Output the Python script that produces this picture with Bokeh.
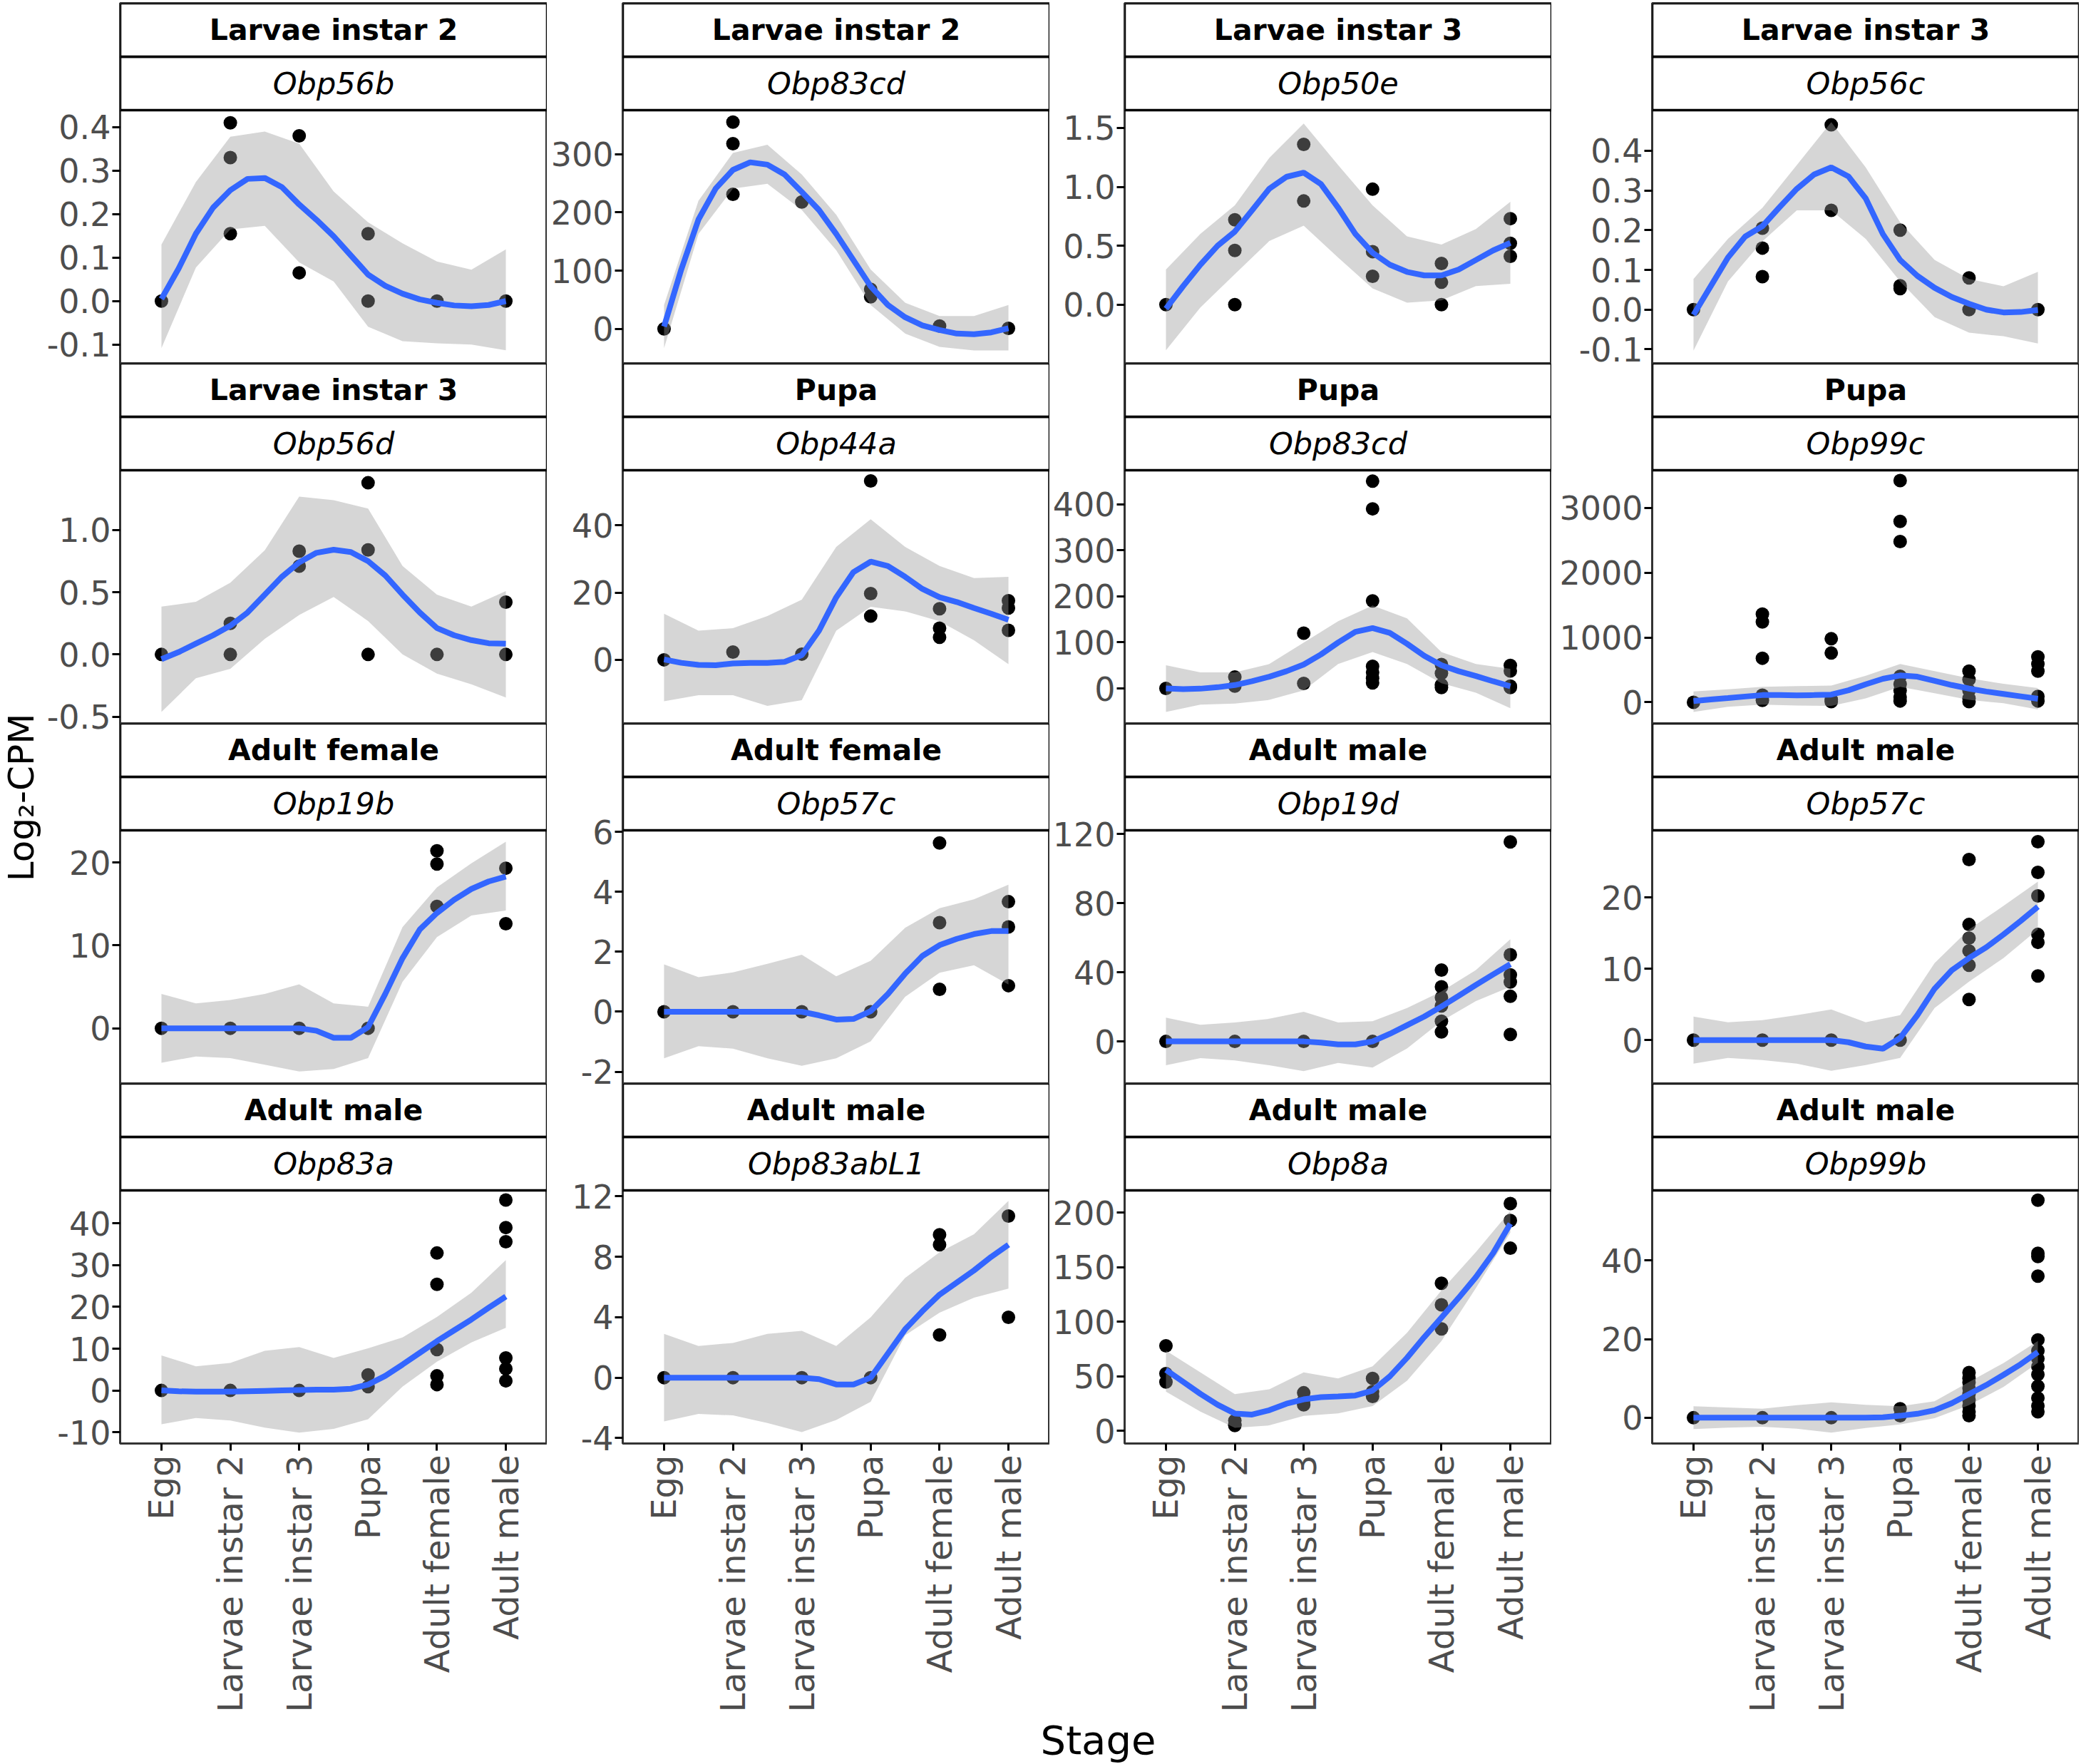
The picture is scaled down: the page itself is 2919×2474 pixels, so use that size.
import numpy as np
from bokeh.plotting import figure
from bokeh.layouts import row, column
from bokeh.models import Range1d, FixedTicker, PrintfTickFormatter
from bokeh.core.properties import value
from bokeh.embed import file_html
from bokeh.resources import INLINE

# ---------------- data ----------------
STAGES = ["Egg", "Larvae instar 2", "Larvae instar 3", "Pupa", "Adult female", "Adult male"]
STRIP_STAGE = ["Larvae instar 2", "Larvae instar 2", "Larvae instar 3", "Larvae instar 3",
               "Larvae instar 3", "Pupa", "Pupa", "Pupa",
               "Adult female", "Adult female", "Adult male", "Adult male",
               "Adult male", "Adult male", "Adult male", "Adult male"]
STRIP_GENE = ["Obp56b", "Obp83cd", "Obp50e", "Obp56c",
              "Obp56d", "Obp44a", "Obp83cd", "Obp99c",
              "Obp19b", "Obp57c", "Obp19d", "Obp57c",
              "Obp83a", "Obp83abL1", "Obp8a", "Obp99b"]
X_LABEL = "Stage"
Y_LABEL = "Log\u2082-CPM"

# stage positions at which the smooth line and its band were read
LINE_X = [1.0, 1.25, 1.5, 1.75, 2.0, 2.25, 2.5, 2.75, 3.0, 3.25, 3.5,
          3.75, 4.0, 4.25, 4.5, 4.75, 5.0, 5.25, 5.5, 5.75, 6.0]
BAND_X = [1.0, 1.5, 2.0, 2.5, 3.0, 3.5, 4.0, 4.5, 5.0, 5.5, 6.0]

# points per stage (Egg, L2, L3, Pupa, Adult female, Adult male)
P01_PTS = [[0.0], [0.41, 0.33, 0.155], [0.38, 0.065], [0.155, 0.0], [0.0], [0.0]]
P01_LINE = [0.005, 0.075, 0.155, 0.215, 0.255, 0.281, 0.283, 0.262, 0.222, 0.187, 0.149,
            0.105, 0.061, 0.035, 0.017, 0.004, -0.004, -0.010, -0.012, -0.009, 0.0]
P01_UP = [0.130, 0.274, 0.378, 0.390, 0.362, 0.252, 0.181, 0.133, 0.091, 0.072, 0.119]
P01_LO = [-0.108, 0.077, 0.165, 0.173, 0.089, 0.045, -0.059, -0.092, -0.097, -0.100, -0.113]
P01_YLIM = [-0.143, 0.439]
P01_TICKS = [-0.1, 0.0, 0.1, 0.2, 0.3, 0.4]

P02_PTS = [[0.0], [355, 318, 231], [218], [68, 55], [5], [1]]
P02_LINE = [4, 102, 188, 241, 273, 286, 282, 265, 235, 204, 163,
            118, 73, 41, 20, 6, -2, -8, -9, -6, 1]
P02_UP = [41, 220, 302, 316, 265, 196, 102, 45, 22, 22, 41]
P02_LO = [-33, 163, 241, 249, 204, 135, 41, -8, -31, -37, -37]
P02_YLIM = [-59, 375.5]
P02_TICKS = [0, 100, 200, 300]

P03_PTS = [[0.0], [0.72, 0.46, 0.0], [1.36, 0.88], [0.98, 0.45, 0.24], [0.35, 0.19, 0.0], [0.73, 0.52, 0.41]]
P03_LINE = [-0.034, 0.157, 0.339, 0.50, 0.62, 0.80, 0.984, 1.085, 1.12, 1.024, 0.823,
            0.60, 0.44, 0.339, 0.278, 0.248, 0.248, 0.298, 0.379, 0.46, 0.524]
P03_UP = [0.298, 0.60, 0.843, 1.246, 1.538, 1.185, 0.843, 0.58, 0.51, 0.641, 0.873]
P03_LO = [-0.387, -0.024, 0.258, 0.54, 0.671, 0.399, 0.137, 0.016, 0.036, 0.157, 0.177]
P03_YLIM = [-0.498, 1.651]
P03_TICKS = [0.0, 0.5, 1.0, 1.5]

P04_PTS = [[0.0], [0.205, 0.155, 0.083], [0.465, 0.25], [0.20, 0.06, 0.053], [0.08, 0.0], [0.0]]
P04_LINE = [-0.013, 0.059, 0.131, 0.184, 0.210, 0.258, 0.304, 0.340, 0.358, 0.335, 0.28,
            0.19, 0.125, 0.085, 0.055, 0.032, 0.015, 0.0, -0.007, -0.006, -0.001]
P04_UP = [0.077, 0.178, 0.256, 0.364, 0.472, 0.358, 0.22, 0.125, 0.077, 0.059, 0.095]
P04_LO = [-0.103, 0.071, 0.172, 0.25, 0.25, 0.178, 0.071, -0.019, -0.058, -0.067, -0.085]
P04_YLIM = [-0.135, 0.502]
P04_TICKS = [-0.1, 0.0, 0.1, 0.2, 0.3, 0.4]

P05_PTS = [[0.0], [0.25, 0.0], [0.83, 0.71], [1.38, 0.84, 0.0], [0.0], [0.42, 0.0]]
P05_LINE = [-0.038, 0.019, 0.087, 0.154, 0.231, 0.337, 0.481, 0.625, 0.74, 0.817, 0.842,
            0.823, 0.75, 0.635, 0.481, 0.337, 0.212, 0.154, 0.115, 0.09, 0.087]
P05_UP = [0.385, 0.423, 0.577, 0.837, 1.269, 1.24, 1.173, 0.712, 0.481, 0.385, 0.51]
P05_LO = [-0.462, -0.192, -0.115, 0.125, 0.317, 0.462, 0.269, 0.0, -0.154, -0.24, -0.346]
P05_YLIM = [-0.554, 1.481]
P05_TICKS = [-0.5, 0.0, 0.5, 1.0]

P06_PTS = [[0.0], [2.3], [1.7], [53.2, 19.7, 13.0], [15.2, 9.4, 6.7], [17.6, 15.4, 8.8]]
P06_LINE = [0.1, -0.9, -1.5, -1.6, -1.1, -0.9, -0.9, -0.6, 1.4, 8.7, 18.6,
            26.1, 29.2, 27.9, 24.7, 21.1, 18.6, 17.2, 15.4, 13.7, 11.9]
P06_UP = [13.7, 8.7, 9.4, 13.0, 17.9, 33.6, 41.8, 33.6, 27.9, 24.3, 24.7]
P06_LO = [-12.3, -10.5, -10.5, -13.7, -12.0, 8.7, 15.8, 14.4, 11.5, 5.8, -1.3]
P06_YLIM = [-18.9, 56.4]
P06_TICKS = [0, 20, 40]

P07_PTS = [[0.0], [25, 5], [120, 11], [450, 390, 190, 48, 35, 22, 12], [52, 33, 8, 2], [50, 38, 5, 2]]
P07_LINE = [0, -1.6, -0.5, 2.6, 7.3, 15.6, 25.5, 37.4, 52, 73.8, 99.7,
            123, 131, 120.5, 97, 71, 50.4, 37.4, 27, 15.6, 4.7]
P07_UP = [50.4, 34.8, 34.8, 53, 99.7, 146, 180, 152, 79, 53, 42.6]
P07_LO = [-50.9, -35.3, -32.7, -24.9, -4.2, 53, 79, 53, 11.4, -9.4, -43]
P07_YLIM = [-75.8, 473.8]
P07_TICKS = [0, 100, 200, 300, 400]

P08_PTS = [[0.0], [1360, 1240, 680, 110, 30], [980, 760, 40, 10],
           [3420, 2790, 2480, 400, 280, 180, 80, 20], [480, 350, 180, 60, 10], [700, 590, 480, 90, 20]]
P08_LINE = [18, 44, 66, 89, 111, 111, 107, 111, 118, 185, 277,
            362, 414, 395, 332, 266, 211, 166, 129, 92, 55]
P08_UP = [166, 200, 240, 250, 258, 410, 590, 480, 370, 285, 220]
P08_LO = [-148, -70, -37, -50, -55, 60, 240, 140, 37, -15, -110]
P08_YLIM = [-325, 3580]
P08_TICKS = [0, 1000, 2000, 3000]

P09_PTS = [[0.0], [0.0], [0.0], [0.0], [21.4, 19.8, 14.7], [19.3, 12.6]]
P09_LINE = [0, 0, 0, 0, 0, 0, 0, 0, 0, -0.3, -1.15,
            -1.15, 0.14, 4.15, 8.45, 11.9, 13.9, 15.5, 16.8, 17.7, 18.3]
P09_UP = [4.15, 3.0, 3.4, 4.15, 5.3, 3.0, 2.6, 12.2, 17.0, 19.9, 22.5]
P09_LO = [-4.15, -3.4, -3.6, -4.4, -5.2, -4.9, -3.6, 5.6, 11.0, 13.6, 14.2]
P09_YLIM = [-6.65, 23.87]
P09_TICKS = [0, 10, 20]

P10_PTS = [[0.0], [0.0], [0.0], [0.0], [5.63, 2.97, 0.75], [3.67, 2.83, 0.87]]
P10_LINE = [0, 0, 0, 0, 0, 0, 0, 0, 0, -0.12, -0.26,
            -0.24, 0.02, 0.59, 1.27, 1.86, 2.22, 2.43, 2.59, 2.69, 2.69]
P10_UP = [1.58, 1.15, 1.31, 1.6, 1.9, 1.18, 1.7, 2.8, 3.45, 3.75, 4.24]
P10_LO = [-1.55, -1.15, -1.23, -1.55, -1.8, -1.55, -0.99, 0.5, 1.3, 1.55, 0.91]
P10_YLIM = [-2.39, 6.05]
P10_TICKS = [-2, 0, 2, 4, 6]

P11_PTS = [[0.0], [0.0], [0.0], [0.0], [41.3, 31.6, 25.4, 20.6, 11.7, 5.5], [115.5, 50.2, 38.5, 34.4, 26.1, 4.1]]
P11_LINE = [0, 0, 0, 0, 0, 0, 0, 0, 0, -0.7, -1.7,
            -1.7, 0, 4.4, 9.4, 14.4, 20.2, 26.4, 32.7, 38.8, 44.7]
P11_UP = [13.8, 9.6, 11.0, 13.1, 17.2, 11.0, 11.7, 19.3, 28.9, 41.3, 59.2]
P11_LO = [-13.8, -9.6, -11.0, -13.8, -17.2, -12.4, -15.1, -4.1, 11.7, 23.4, 31.6]
P11_YLIM = [-24.3, 122.2]
P11_TICKS = [0, 40, 80, 120]

P12_PTS = [[0.0], [0.0], [0.0], [0.0], [25.3, 16.2, 14.3, 12.5, 10.5, 5.7], [27.8, 23.5, 20.2, 14.8, 13.7, 9.0]]
P12_LINE = [0, 0, 0, 0, 0, 0, 0, 0, 0, -0.3, -0.9,
            -1.2, 0.3, 3.5, 7.2, 9.8, 11.5, 13.0, 14.8, 16.7, 18.7]
P12_UP = [3.3, 2.5, 2.8, 3.5, 4.3, 2.5, 3.5, 10.8, 15.5, 18.8, 22.2]
P12_LO = [-3.3, -2.5, -2.8, -3.3, -4.3, -3.5, -2.5, 4.5, 8.2, 11.5, 15.5]
P12_YLIM = [-6.07, 29.4]
P12_TICKS = [0, 10, 20]

P13_PTS = [[0.0], [0.0], [0.0], [3.75, 0.9], [32.9, 25.4, 9.8, 3.5, 1.4], [45.6, 39.0, 35.6, 7.8, 5.2, 2.3]]
P13_LINE = [0, -0.2, -0.3, -0.3, -0.3, -0.2, -0.1, 0, 0.1, 0.2, 0.2,
            0.4, 1.4, 3.5, 6.2, 9.0, 11.8, 14.4, 17.0, 19.8, 22.5]
P13_UP = [8.4, 5.8, 6.6, 9.5, 10.4, 7.8, 10.1, 12.7, 17.6, 23.4, 31.2]
P13_LO = [-8.1, -6.6, -7.2, -8.9, -10.1, -9.2, -6.9, 0.9, 6.9, 11.5, 15.0]
P13_YLIM = [-12.7, 47.9]
P13_TICKS = [-10, 0, 10, 20, 30, 40]

P14_PTS = [[0.0], [0.0], [0.0], [0.0], [9.46, 8.8, 2.83], [10.7, 4.0]]
P14_LINE = [0, 0, 0, 0, 0, 0, 0, 0, 0, -0.1, -0.45,
            -0.45, 0, 1.6, 3.2, 4.4, 5.5, 6.3, 7.1, 8.0, 8.8]
P14_UP = [2.9, 2.1, 2.3, 2.9, 3.1, 2.1, 4.0, 6.6, 8.3, 9.5, 11.7]
P14_LO = [-2.9, -2.4, -2.5, -3.0, -3.6, -2.8, -1.6, 2.8, 4.3, 5.3, 5.9]
P14_YLIM = [-4.36, 12.4]
P14_TICKS = [-4, 0, 4, 8, 12]

P15_PTS = [[78, 52.6, 44.9], [9.5, 6, 5], [35, 28, 24], [48.2, 36, 31.6], [135.4, 115.6, 93.5], [208.4, 192.9, 167.5]]
P15_LINE = [56, 45, 34, 24, 16, 15, 19, 25, 29, 31, 31.6,
            32.5, 37, 50, 67, 86, 104, 122, 141, 163, 190]
P15_UP = [73.6, 53.7, 33.8, 38.2, 53.7, 48.2, 59.2, 90, 128.8, 164, 201.7]
P15_LO = [36, 17.7, 2.9, 5.1, 13.9, 16.1, 22.8, 46, 82.4, 131, 181.8]
P15_YLIM = [-11.5, 220.5]
P15_TICKS = [0, 50, 100, 150, 200]

P16_PTS = [[0.0], [0.0], [0.0], [2.3, 0.5], [11.5, 10, 9, 7.5, 6, 4.5, 3, 1.5, 0.5],
           [55.3, 41.8, 41, 36, 19.8, 17, 15, 13, 11, 8, 5, 3, 1.5]]
P16_LINE = [0, 0, 0, 0, 0, 0, 0, 0, 0, 0, 0,
            0.1, 0.5, 1.0, 1.9, 3.7, 6.0, 8.3, 10.9, 13.6, 16.7]
P16_UP = [2.9, 2.6, 2.3, 3.2, 3.9, 3.3, 2.9, 4.2, 9.1, 13.9, 19.5]
P16_LO = [-2.9, -2.5, -2.3, -2.8, -3.8, -2.6, -1.7, -0.1, 3.2, 7.8, 14.0]
P16_YLIM = [-6.55, 57.8]
P16_TICKS = [0, 20, 40]

PANELS = [
    (P01_PTS, P01_LINE, P01_UP, P01_LO, P01_YLIM, P01_TICKS),
    (P02_PTS, P02_LINE, P02_UP, P02_LO, P02_YLIM, P02_TICKS),
    (P03_PTS, P03_LINE, P03_UP, P03_LO, P03_YLIM, P03_TICKS),
    (P04_PTS, P04_LINE, P04_UP, P04_LO, P04_YLIM, P04_TICKS),
    (P05_PTS, P05_LINE, P05_UP, P05_LO, P05_YLIM, P05_TICKS),
    (P06_PTS, P06_LINE, P06_UP, P06_LO, P06_YLIM, P06_TICKS),
    (P07_PTS, P07_LINE, P07_UP, P07_LO, P07_YLIM, P07_TICKS),
    (P08_PTS, P08_LINE, P08_UP, P08_LO, P08_YLIM, P08_TICKS),
    (P09_PTS, P09_LINE, P09_UP, P09_LO, P09_YLIM, P09_TICKS),
    (P10_PTS, P10_LINE, P10_UP, P10_LO, P10_YLIM, P10_TICKS),
    (P11_PTS, P11_LINE, P11_UP, P11_LO, P11_YLIM, P11_TICKS),
    (P12_PTS, P12_LINE, P12_UP, P12_LO, P12_YLIM, P12_TICKS),
    (P13_PTS, P13_LINE, P13_UP, P13_LO, P13_YLIM, P13_TICKS),
    (P14_PTS, P14_LINE, P14_UP, P14_LO, P14_YLIM, P14_TICKS),
    (P15_PTS, P15_LINE, P15_UP, P15_LO, P15_YLIM, P15_TICKS),
    (P16_PTS, P16_LINE, P16_UP, P16_LO, P16_YLIM, P16_TICKS),
]

# ---------------- layout / style ----------------
FONT = "DejaVu Sans"
FRAME_W = 599
STRIP_H = 75
PANEL_H = 355
FRAME_H = 2 * STRIP_H + PANEL_H
LEFT = [108, 106, 105, 141]
TOP = 4
PAD = 24          # room above/below each frame so edge tick labels are not clipped
BOTTOM = 384
YLAB_W = 60
XLAB_H = 64
GRID_W = sum(LEFT) + 4 * FRAME_W
TOTAL_H = TOP + 4 * FRAME_H + BOTTOM + XLAB_H


def make_cell(i, r, c):
    pts, line_y, up, lo, ylim, ticks = PANELS[i]
    ylo, yhi = ylim
    sh = (yhi - ylo) * STRIP_H / PANEL_H
    ytop = yhi + 2 * sh
    bottom_row = (r == 3)
    p = figure(frame_width=FRAME_W, frame_height=FRAME_H,
               x_range=Range1d(0.4, 6.6), y_range=Range1d(ylo, ytop),
               output_backend="svg", toolbar_location=None, tools="",
               min_border_left=LEFT[c], min_border_right=0,
               min_border_top=TOP if r == 0 else PAD,
               min_border_bottom=BOTTOM if bottom_row else PAD,
               x_axis_location="below" if bottom_row else None,
               background_fill_color="white", border_fill_alpha=0,
               outline_line_color="#333333", outline_line_width=3)
    p.xgrid.visible = False
    p.ygrid.visible = False

    # points (drawn first, then band on top as in ggplot)
    xs, ys = [], []
    for k, vals in enumerate(pts):
        for v in vals:
            xs.append(k + 1)
            ys.append(v)
    p.scatter(xs, ys, size=19, fill_color="black", line_color=None)
    p.varea(x=BAND_X, y1=lo, y2=up, fill_color="#999999", fill_alpha=0.4)
    p.line(LINE_X, line_y, line_color="#3366FF", line_width=8)

    # facet strips
    p.quad(left=[0.4, 0.4], right=[6.6, 6.6], bottom=[yhi, yhi + sh], top=[yhi + sh, ytop],
           fill_color="white", line_color="black", line_width=3.5)
    p.text(x=[3.5], y=[yhi + 1.5 * sh], text=[STRIP_STAGE[i]], text_align="center",
           text_baseline="middle", text_font=value(FONT), text_font_size="41px",
           text_font_style="bold", text_color="black")
    p.text(x=[3.5], y=[yhi + 0.5 * sh], text=[STRIP_GENE[i]], text_align="center",
           text_baseline="middle", text_font=value(FONT), text_font_size="43px",
           text_font_style="italic", text_color="black")

    # y axis
    ya = p.yaxis[0]
    ya.ticker = FixedTicker(ticks=ticks)
    if any(abs(t - round(t)) > 1e-9 for t in ticks):
        ya.formatter = PrintfTickFormatter(format="%.1f")
    else:
        ya.formatter = PrintfTickFormatter(format="%d")
    ya.axis_line_color = None
    ya.minor_tick_line_color = None
    ya.major_tick_line_color = "black"
    ya.major_tick_line_width = 3
    ya.major_tick_out = 11
    ya.major_tick_in = 0
    ya.major_label_standoff = 2
    ya.major_label_text_font = FONT
    ya.major_label_text_font_size = "46px"
    ya.major_label_text_color = "#4D4D4D"

    if bottom_row:
        xa = p.xaxis[0]
        xa.ticker = FixedTicker(ticks=[1, 2, 3, 4, 5, 6])
        xa.major_label_overrides = {k + 1: s for k, s in enumerate(STAGES)}
        xa.major_label_orientation = np.pi / 2
        xa.axis_line_color = None
        xa.minor_tick_line_color = None
        xa.major_tick_line_color = "black"
        xa.major_tick_line_width = 3
        xa.major_tick_out = 10
        xa.major_tick_in = 0
        xa.major_label_standoff = 6
        xa.major_label_text_font = FONT
        xa.major_label_text_font_size = "48px"
        xa.major_label_text_color = "#4D4D4D"
    return p


rows = []
for r in range(4):
    rw = row(*[make_cell(r * 4 + c, r, c) for c in range(4)], spacing=0)
    if r > 0:
        rw.margin = (-2 * PAD, 0, 0, 0)   # let neighbouring rows overlap in their padding
    rows.append(rw)
grid = column(*rows, spacing=0)

# x axis title
xl = figure(width=GRID_W, height=XLAB_H, x_range=Range1d(0, GRID_W), y_range=Range1d(0, XLAB_H),
            output_backend="svg", toolbar_location=None, tools="", min_border=0,
            outline_line_color=None, x_axis_location=None, y_axis_location=None,
            border_fill_alpha=0, background_fill_alpha=0)
xl.grid.visible = False
xl.text(x=[1480], y=[XLAB_H / 2], text=[X_LABEL], text_align="center", text_baseline="middle",
        text_font=value(FONT), text_font_size="56px", text_color="black")

# y axis title
yl = figure(width=YLAB_W, height=TOTAL_H, x_range=Range1d(0, YLAB_W), y_range=Range1d(0, TOTAL_H),
            output_backend="svg", toolbar_location=None, tools="", min_border=0,
            outline_line_color=None, x_axis_location=None, y_axis_location=None)
yl.grid.visible = False
yl.text(x=[29], y=[TOTAL_H - 1118], text=[Y_LABEL], angle=np.pi / 2, text_align="center",
        text_baseline="middle", text_font=value(FONT), text_font_size="50px", text_color="black")

layout = row(yl, column(grid, xl, spacing=0), spacing=0)

with open("out.html", "w") as f:
    f.write(file_html(layout, INLINE))
